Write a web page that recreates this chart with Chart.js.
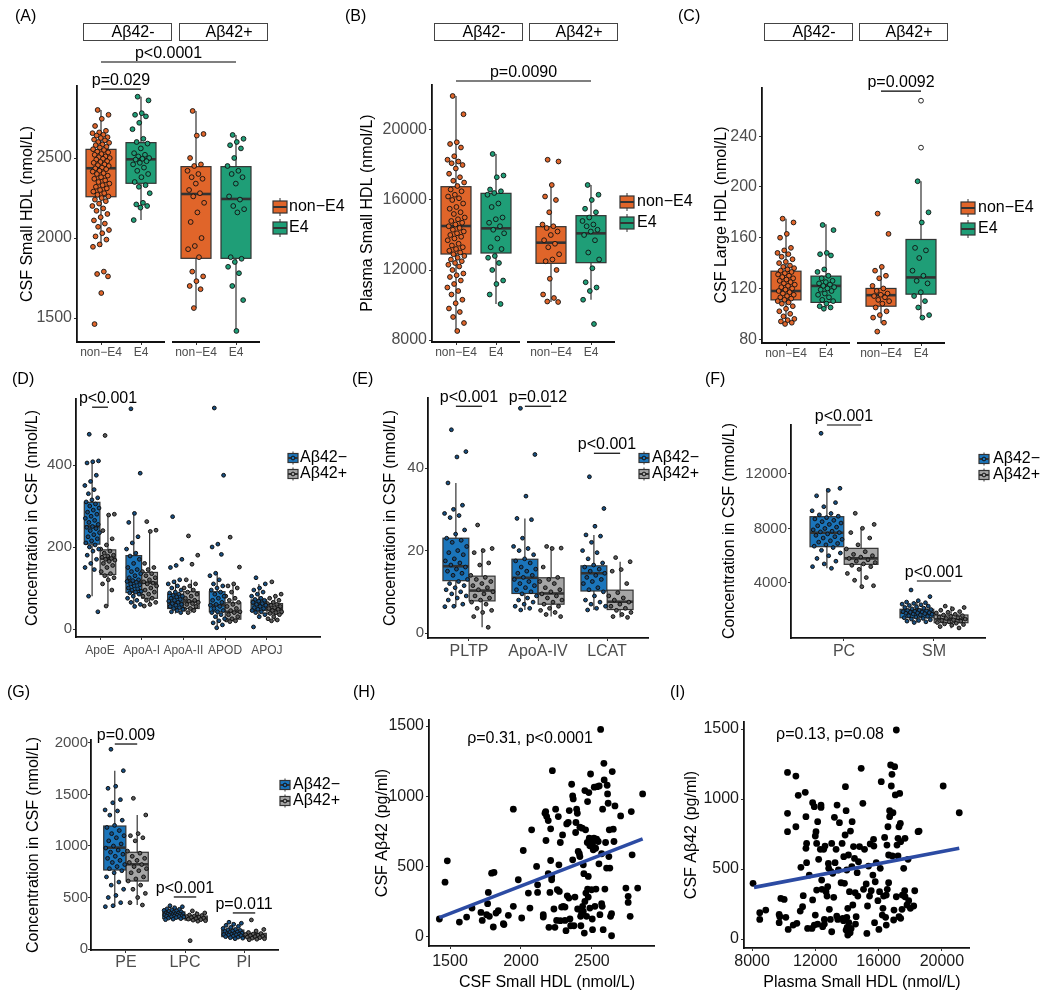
<!DOCTYPE html>
<html>
<head>
<meta charset="utf-8">
<title>HDL subspecies and amyloid</title>
<script src="https://cdn.jsdelivr.net/npm/chart.js"></script>
<style>
  html, body { margin: 0; padding: 0; background: #fff; }
  body { position: relative; width: 1050px; height: 1000px; overflow: hidden; }
  canvas { position: absolute; }
</style>
</head>
<body>
<script>
const FONT = '"Liberation Sans", Arial, Helvetica, sans-serif';
Chart.defaults.font.family = FONT;

// ---------------- data: panels A-C (APOE group within amyloid status) ----------------
const apoeLabels = ['non−E4', 'E4'];
const stripLabels = ['Aβ42-', 'Aβ42+'];
const apoeColors = ['#e0652a', '#1f9e77'];

// box stats: [lower whisker, q1, median, q3, upper whisker]; order: neg/nonE4, neg/E4, pos/nonE4, pos/E4
const csfSmallStats = [[1944, 2258, 2436, 2554, 2800], [2112, 2342, 2492, 2596, 2883], [1562, 1873, 2275, 2446, 2794], [1419, 1873, 2244, 2446, 2644]];
const csfSmallNegNonE4 = [2800, 2770, 2745, 2700, 2670, 2660, 2655, 2645, 2640, 2630, 2625, 2615, 2610, 2600, 2595, 2585, 2580, 2570, 2565, 2555, 2550, 2540, 2535, 2525, 2520, 2510, 2505, 2500, 2495, 2490, 2480, 2475, 2470, 2460, 2455, 2450, 2440, 2435, 2430, 2420, 2415, 2405, 2400, 2390, 2380, 2370, 2360, 2350, 2340, 2330, 2320, 2310, 2300, 2290, 2280, 2270, 2260, 2250, 2240, 2230, 2215, 2200, 2185, 2170, 2150, 2130, 2110, 2090, 2070, 2050, 2030, 2010, 1990, 1960, 1945, 1790, 1775, 1760, 1656, 1462];
const csfSmallNegE4 = [2883, 2860, 2780, 2770, 2760, 2720, 2680, 2620, 2600, 2590, 2560, 2530, 2520, 2510, 2500, 2495, 2490, 2480, 2470, 2460, 2440, 2420, 2400, 2380, 2350, 2330, 2320, 2280, 2220, 2210, 2200, 2190, 2112];
const csfSmallPosNonE4 = [2794, 2650, 2640, 2500, 2460, 2450, 2420, 2400, 2380, 2370, 2340, 2300, 2280, 2260, 2220, 2160, 2100, 2000, 1950, 1930, 1880, 1790, 1760, 1730, 1700, 1680, 1562];
const csfSmallPosE4 = [2644, 2620, 2600, 2580, 2560, 2500, 2450, 2420, 2400, 2380, 2340, 2260, 2240, 2200, 2180, 2160, 1880, 1870, 1850, 1820, 1780, 1700, 1612, 1419];
const csfSmallPvals = ['p<0.0001', 'p=0.029'];

const plasmaSmallStats = [[8514, 12914, 14514, 16760, 21943], [10057, 12971, 14381, 16381, 18629], [10171, 12381, 13562, 14476, 16857], [10300, 12419, 14095, 15105, 16857]];
const plasmaSmallNegNonE4 = [21943, 20900, 19300, 19200, 19000, 18500, 18300, 18200, 18100, 18000, 17800, 17500, 17300, 17100, 17000, 16800, 16600, 16500, 16300, 16200, 16100, 16000, 15800, 15600, 15500, 15300, 15200, 15000, 14900, 14800, 14700, 14600, 14500, 14400, 14300, 14200, 14100, 14000, 13900, 13800, 13700, 13500, 13400, 13300, 13200, 13100, 13000, 12900, 12800, 12700, 12600, 12500, 12400, 12300, 12200, 12000, 11800, 11700, 11600, 11400, 11200, 11000, 10800, 10600, 10300, 10100, 9800, 9600, 9314, 8971, 8514];
const plasmaSmallNegE4 = [18629, 17400, 17300, 16600, 16500, 16400, 16300, 15800, 15600, 15000, 14900, 14700, 14500, 14300, 14100, 13800, 13300, 13200, 12800, 12700, 12400, 12000, 11400, 11200, 10600, 10057];
const plasmaSmallPosNonE4 = [18300, 18200, 16857, 16200, 16000, 15300, 14600, 14500, 14400, 14200, 14000, 13700, 13500, 13300, 12900, 12600, 12500, 12000, 11500, 10600, 10400, 10200, 10171];
const plasmaSmallPosE4 = [16857, 16300, 16000, 15500, 15300, 15000, 14800, 14600, 14500, 14300, 14200, 14000, 13700, 13000, 12600, 12100, 11300, 11000, 10800, 10300, 8914];
const plasmaSmallPvals = ['p=0.0090'];

const csfLargeStats = [[92, 111, 118, 133.6, 175], [104.5, 109, 122, 129.7, 170.7], [92.6, 106, 114.7, 120, 137], [97.4, 115.5, 128.7, 158.6, 204.5]];
const csfLargeNegNonE4 = [175, 172, 163, 160, 152, 150, 148, 147, 145, 143, 141, 140, 138, 137, 136, 135, 134, 133, 132, 131, 130, 129, 128, 127, 126, 125, 124, 123, 122, 121, 120, 119, 118, 117, 116, 115, 114, 113, 112, 111, 110, 109, 108, 106, 104, 102, 100, 98, 96, 95, 94, 93, 92];
const csfLargeNegE4 = [170, 166, 148, 147, 146, 135, 133, 130, 128, 126, 125, 124, 123, 122, 121, 120, 119, 118, 116, 115, 113, 111, 110, 108, 106, 105, 104];
const csfLargePosNonE4 = [179, 163, 137, 134, 130, 128, 122, 120, 118, 116, 115, 114, 113, 111, 110, 108, 105, 102, 99, 97, 93, 86];
const csfLargePosE4 = [204.5, 180, 172, 152, 150, 144, 134, 130, 126, 124, 117, 114, 110, 105, 99, 97];
const csfLargePosE4Outliers = [268, 231];
const csfLargePvals = ['p=0.0092'];

// ---------------- data: panels D-G (Aβ42− vs Aβ42+) ----------------
const amyLabels = ['Aβ42−', 'Aβ42+'];
const amyColors = ['#1b75bb', '#a5a5a5'];

const apoProteins = ['ApoE', 'ApoA-I', 'ApoA-II', 'APOD', 'APOJ'];
const apoNegStats = [[80, 207, 250, 309, 412], [54, 89, 116, 179, 282], [38, 50, 64, 85, 120], [3, 42, 58, 91, 136], [30, 45, 61, 71, 110]];
const apoPosStats = [[56, 133, 172, 193, 282], [56, 75, 113, 138, 241], [40, 50, 67, 91, 120], [18, 24, 42, 64, 110], [20, 37, 48, 62, 85]];
const apoENeg = [475, 410, 408, 405, 375, 360, 350, 340, 330, 320, 315, 310, 305, 300, 295, 290, 285, 280, 275, 270, 265, 260, 255, 250, 248, 245, 240, 235, 230, 225, 220, 215, 210, 205, 200, 195, 190, 180, 170, 160, 150, 145, 80, 42];
const apoEPos = [472, 280, 278, 240, 220, 205, 195, 190, 185, 180, 178, 175, 172, 170, 168, 165, 160, 155, 150, 140, 135, 130, 125, 120, 110, 95, 56];
const apoA1Neg = [537, 380, 282, 260, 225, 210, 195, 185, 178, 170, 160, 150, 145, 140, 135, 130, 125, 120, 118, 116, 114, 110, 108, 105, 100, 98, 95, 92, 90, 88, 85, 80, 75, 70, 65, 60, 55];
const apoA1Pos = [262, 241, 238, 160, 150, 145, 140, 135, 130, 125, 120, 115, 112, 110, 105, 100, 95, 90, 85, 80, 75, 70, 65, 60, 56];
const apoA2Neg = [274, 170, 155, 150, 120, 115, 110, 105, 100, 95, 90, 88, 85, 82, 80, 78, 75, 72, 70, 68, 65, 62, 60, 58, 55, 52, 50, 48, 45, 42, 40];
const apoA2Pos = [227, 180, 158, 120, 110, 105, 100, 95, 90, 85, 80, 75, 70, 68, 65, 62, 60, 55, 50, 48, 45, 40];
const apoDNeg = [539, 375, 207, 200, 182, 136, 130, 120, 110, 105, 100, 95, 90, 85, 80, 75, 70, 65, 60, 58, 55, 50, 45, 42, 40, 35, 30, 25, 20, 15, 10, 3];
const apoDPos = [224, 151, 110, 105, 100, 90, 80, 75, 70, 65, 60, 55, 50, 45, 42, 40, 35, 30, 25, 22, 20, 18];
const apoJNeg = [125, 110, 100, 95, 90, 85, 80, 75, 72, 70, 68, 65, 62, 60, 58, 55, 52, 50, 48, 45, 42, 40, 35, 30, 5];
const apoJPos = [115, 85, 80, 75, 70, 65, 62, 60, 58, 55, 52, 50, 48, 45, 42, 40, 38, 35, 30, 25, 22, 20];
const apoPvals = ['p<0.001'];

const enzymes = ['PLTP', 'ApoA-IV', 'LCAT'];
const enzNegStats = [[6.4, 12.7, 16.2, 23, 36.4], [5.6, 9.6, 13.4, 17.9, 27.8], [5.6, 10.2, 14.5, 16.3, 23.8]];
const enzPosStats = [[1.4, 7.8, 10.3, 13.8, 20.5], [4, 7, 9.6, 13.4, 21], [3.8, 5.7, 7.6, 10.4, 17.3]];
const pltpNeg = [49.3, 44, 42.7, 36.4, 31, 30, 29, 28.5, 28, 25, 24, 23, 22.5, 22, 21, 20, 19.5, 19, 18, 17.5, 17, 16.5, 16, 15.5, 15, 14.5, 14, 13, 12.5, 12, 11.5, 11, 10.5, 10, 9.5, 9, 8.5, 8, 7, 6.5, 6.4];
const pltpPos = [26.2, 20.5, 20, 19.5, 17, 16.5, 14, 13.5, 13, 12.5, 12, 11.5, 11, 10.5, 10, 9.5, 9, 8.5, 8, 7.5, 7, 6, 5.5, 5, 4, 1.4];
const apoA4Neg = [54.5, 43.3, 33.2, 27.8, 27.5, 23, 21, 20.5, 20, 19, 18, 17.5, 17, 16, 15.5, 15, 14.5, 14, 13.5, 13, 12.5, 12, 11.5, 11, 10.5, 10, 9.5, 9, 8.5, 8, 7.5, 7, 6.5, 6, 5.6];
const apoA4Pos = [21, 20.6, 20.5, 16, 13.5, 13, 12.5, 12, 11, 10.5, 10, 9.5, 9, 8.5, 8, 7.5, 7, 6.5, 6, 5.5, 5, 4.5, 4];
const lcatNeg = [37.9, 30.2, 25.9, 23.8, 23.5, 22, 20, 19.5, 18, 17, 16.5, 16, 15.5, 15, 14.5, 14, 13.5, 13, 12.5, 12, 11, 10.5, 10, 9, 8, 7.5, 7, 6.5, 6, 5.6];
const lcatPos = [18.3, 17.3, 15.4, 15, 12, 9.8, 9, 8.5, 8, 7.5, 7, 6.5, 6, 5.5, 5, 4.5, 4, 3.8];
const enzPvals = ['p<0.001', 'p=0.012', 'p<0.001'];

const lipidsF = ['PC', 'SM'];
const lipFNegStats = [[5079, 6664, 7692, 8866, 10950], [1100, 1450, 1820, 2070, 2700]];
const lipFPosStats = [[3730, 5370, 5810, 6543, 8015], [675, 1086, 1336, 1651, 2312]];
const pcNeg = [14987, 10950, 10800, 10400, 9900, 9600, 9300, 9100, 9000, 8900, 8800, 8700, 8600, 8500, 8400, 8300, 8200, 8100, 8000, 7900, 7800, 7750, 7700, 7600, 7500, 7400, 7300, 7200, 7100, 7000, 6900, 6800, 6700, 6600, 6400, 6200, 6000, 5800, 5600, 5400, 5200, 5079];
const pcPos = [9115, 8300, 8015, 7700, 7300, 6800, 6500, 6300, 6100, 6000, 5900, 5800, 5700, 5600, 5500, 5400, 5300, 5200, 5000, 4700, 4400, 4200, 3800, 3730];
const smNeg = [3486, 3000, 2700, 2600, 2550, 2500, 2450, 2400, 2350, 2300, 2250, 2200, 2150, 2100, 2050, 2000, 1980, 1950, 1920, 1900, 1870, 1850, 1820, 1800, 1780, 1750, 1720, 1700, 1650, 1600, 1550, 1500, 1450, 1400, 1350, 1300, 1250, 1200, 1150, 1100];
const smPos = [2300, 2200, 2100, 2000, 1900, 1850, 1800, 1700, 1650, 1600, 1550, 1500, 1450, 1400, 1350, 1300, 1250, 1200, 1150, 1100, 1050, 1000, 950, 900, 800, 700];
const lipFPvals = ['p<0.001', 'p<0.001'];

const lipidsG = ['PE', 'LPC', 'PI'];
const lipGNegStats = [[411, 767, 984, 1194, 1731], [285, 295, 330, 360, 420], [100, 120, 150, 184, 260]];
const lipGPosStats = [[427, 660, 822, 939, 1301], [270, 280, 300, 320, 370], [90, 110, 130, 152, 190]];
const peNeg = [1939, 1731, 1580, 1560, 1450, 1420, 1350, 1340, 1300, 1250, 1200, 1180, 1150, 1120, 1100, 1080, 1050, 1020, 1000, 980, 960, 940, 920, 900, 880, 860, 840, 820, 800, 780, 760, 740, 700, 650, 620, 580, 520, 500, 450, 420, 411];
const pePos = [1463, 1301, 1120, 1100, 1080, 1050, 950, 930, 900, 880, 860, 840, 820, 800, 780, 760, 740, 700, 680, 660, 620, 580, 540, 500, 450, 427];
const lpcNeg = [420, 410, 400, 390, 385, 380, 375, 370, 365, 360, 355, 350, 348, 345, 342, 340, 338, 335, 332, 330, 328, 325, 322, 320, 318, 315, 312, 310, 305, 300, 295, 290, 285];
const lpcPos = [370, 350, 340, 330, 325, 320, 315, 310, 305, 300, 295, 290, 285, 280, 275, 270, 81];
const piNeg = [260, 250, 240, 230, 220, 210, 200, 190, 185, 180, 175, 170, 165, 160, 155, 150, 148, 145, 142, 140, 138, 135, 130, 125, 120, 115, 110, 105, 100];
const piPos = [282, 190, 175, 160, 150, 145, 140, 135, 130, 125, 120, 115, 110, 105, 100, 95, 90];
const lipGPvals = ['p=0.009', 'p<0.001', 'p=0.011'];

// ---------------- data: panels H-I (scatter) ----------------
const csfHdlX = [1425, 1465, 1481, 1566, 1617, 1655, 1718, 1727, 1758, 1765, 1770, 1777, 1793, 1805, 1810, 1824, 1840, 1876, 1880, 1911, 1946, 1946, 1981, 2005, 2016, 2052, 2063, 2075, 2110, 2117, 2117, 2157, 2157, 2169, 2174, 2176, 2181, 2192, 2192, 2197, 2204, 2209, 2209, 2216, 2216, 2221, 2232, 2239, 2244, 2251, 2256, 2263, 2267, 2270, 2277, 2277, 2286, 2293, 2298, 2310, 2310, 2317, 2322, 2326, 2333, 2338, 2340, 2345, 2350, 2357, 2364, 2364, 2368, 2373, 2380, 2385, 2387, 2392, 2397, 2399, 2403, 2411, 2415, 2415, 2420, 2422, 2427, 2431, 2434, 2439, 2439, 2443, 2446, 2450, 2450, 2455, 2457, 2462, 2467, 2469, 2469, 2474, 2474, 2478, 2481, 2485, 2485, 2490, 2493, 2497, 2502, 2504, 2504, 2509, 2514, 2516, 2521, 2526, 2528, 2533, 2537, 2544, 2549, 2551, 2556, 2561, 2568, 2568, 2572, 2575, 2579, 2584, 2586, 2591, 2596, 2603, 2607, 2610, 2614, 2619, 2622, 2626, 2631, 2638, 2638, 2643, 2650, 2655, 2662, 2702, 2739, 2755, 2755, 2769, 2777, 2783, 2822, 2857];
const csfAb42Y = [128, 390, 542, 106, 142, 206, 175, 118, 159, 237, 317, 147, 454, 71, 459, 170, 187, 95, 88, 154, 218, 909, 407, 135, 615, 312, 206, 762, 502, 317, 371, 159, 142, 880, 892, 686, 856, 828, 450, 69, 317, 544, 769, 407, 431, 1183, 199, 69, 909, 118, 336, 856, 513, 324, 116, 672, 213, 726, 218, 118, 213, 45, 804, 293, 814, 277, 899, 128, 80, 1086, 549, 1003, 982, 80, 284, 743, 814, 909, 880, 199, 608, 592, 781, 572, 147, 80, 170, 774, 218, 182, 513, 450, 28, 253, 1041, 762, 312, 147, 672, 341, 963, 431, 284, 1027, 703, 648, 206, 1159, 696, 336, 128, 52, 662, 620, 703, 1065, 218, 631, 341, 696, 1069, 679, 520, 1074, 159, 1476, 592, 237, 218, 909, 52, 1235, 1117, 341, 672, 490, 1079, 1017, 951, 572, 762, 490, 147, 9, 166, 1176, 767, 679, 932, 861, 348, 289, 246, 147, 892, 584, 348, 1017];
const csfFitX = [1425, 2857];
const csfFitY = [138, 698];
const csfRho = 'ρ=0.31, p<0.0001';

const plasmaHdlX = [8063, 8487, 8487, 8868, 9714, 9714, 9756, 10137, 9820, 10031, 10243, 10243, 10243, 10285, 10603, 10772, 10772, 10835, 10920, 11089, 11047, 11195, 11237, 11364, 11406, 11449, 11406, 11449, 11512, 11618, 11787, 11830, 11830, 11936, 11936, 11999, 11999, 12042, 12084, 12084, 12148, 12148, 12211, 12317, 12360, 12360, 12402, 12423, 12465, 12529, 12571, 12571, 12613, 12677, 12740, 12782, 12825, 12846, 12888, 12952, 12994, 13036, 13036, 13100, 13163, 13206, 13248, 13312, 13354, 13375, 13418, 13460, 13524, 13629, 13693, 13735, 13777, 13798, 13841, 13883, 13904, 13946, 13946, 13989, 13989, 14010, 14052, 14052, 14095, 14116, 14158, 14200, 14222, 14264, 14306, 14327, 14370, 14412, 14476, 14518, 14539, 14581, 14645, 14687, 14730, 14793, 14899, 15004, 15046, 15110, 15215, 15258, 15300, 15363, 15427, 15469, 15533, 15638, 15681, 15702, 15744, 15787, 15850, 15956, 16020, 16062, 16104, 16168, 16232, 16274, 16316, 16380, 16443, 16485, 16485, 16528, 16549, 16591, 16634, 16634, 16697, 16697, 16761, 16803, 16845, 16867, 16909, 16951, 16972, 17015, 17057, 17120, 17163, 17226, 17290, 17332, 17374, 17480, 17586, 17649, 17797, 17861, 17903, 17120, 17226, 17290, 17395, 17395, 17501, 17670, 17670, 18009, 18284, 18220, 18495, 18559, 20082, 21098];
const plasmaAb42Y = [398, 140, 188, 207, 176, 117, 160, 155, 290, 283, 1190, 898, 767, 69, 100, 1164, 802, 112, 1026, 512, 200, 231, 310, 1048, 874, 683, 648, 545, 76, 457, 76, 974, 279, 100, 945, 171, 736, 767, 683, 350, 838, 107, 569, 641, 957, 940, 421, 355, 88, 641, 107, 140, 664, 338, 307, 374, 540, 505, 212, 140, 481, 683, 52, 469, 298, 869, 545, 641, 164, 957, 140, 493, 831, 402, 683, 148, 131, 588, 398, 743, 1088, 64, 917, 493, 155, 83, 29, 219, 600, 117, 338, 45, 771, 76, 517, 838, 243, 660, 576, 331, 107, 160, 474, 307, 552, 660, 1219, 969, 355, 641, 393, 40, 236, 521, 307, 679, 345, 457, 712, 664, 117, 409, 545, 274, 69, 338, 505, 1124, 171, 219, 307, 726, 155, 100, 314, 671, 355, 802, 600, 402, 917, 874, 1243, 1093, 1176, 593, 902, 136, 207, 1231, 1029, 302, 671, 593, 802, 1040, 826, 212, 505, 345, 243, 569, 274, 1493, 719, 160, 148, 695, 314, 719, 302, 219, 345, 236, 767, 771, 1093, 902];
const plasmaFitX = [8127, 21098];
const plasmaFitY = [369, 648];
const plasmaRho = 'ρ=0.13, p=0.08';

// ---------------- helpers ----------------
const jit = i => (((i + 0.5) * 0.618034) % 1) - 0.5;

function txt(ctx, s, x, y, size, o) {
  o = o || {};
  ctx.save();
  ctx.font = size + 'px ' + FONT;
  ctx.fillStyle = o.color || '#000';
  ctx.textAlign = o.align || 'left';
  ctx.textBaseline = o.base || 'middle';
  ctx.translate(x, y);
  if (o.rot) ctx.rotate(o.rot);
  ctx.fillText(s, 0, 0);
  ctx.restore();
}

function makeCanvas(p) {
  const cv = document.createElement('canvas');
  cv.width = p.w;
  cv.height = p.h;
  cv.style.left = p.left + 'px';
  cv.style.top = p.top + 'px';
  cv.style.width = p.w + 'px';
  cv.style.height = p.h + 'px';
  document.body.appendChild(cv);
  return cv;
}

function scaleOptions(p) {
  const a = p.area;
  const col = p.tickColor || '#4d4d4d';
  const grid = { display: true, drawOnChartArea: false, drawTicks: true, tickLength: 3, color: '#333', lineWidth: 1 };
  return {
    x: {
      type: 'linear', bounds: 'data', min: p.xMin, max: p.xMax,
      afterBuildTicks: s => { s.ticks = p.xTicks.map(v => ({ value: v })); },
      afterFit: s => { s.height = p.top + p.h - a.b; s.paddingLeft = 0; s.paddingRight = 0; },
      border: { display: !p.facets, color: '#111', width: 1.8 },
      grid: grid,
      ticks: {
        autoSkip: false, maxRotation: 0, minRotation: 0, padding: p.xPad, color: col,
        font: { size: p.xFont }, callback: (v, i) => (p.xLabels ? p.xLabels[i] : String(v))
      }
    },
    y: {
      type: 'linear', bounds: 'data', min: p.yMin, max: p.yMax,
      afterBuildTicks: s => { s.ticks = p.yTicks.map(v => ({ value: v })); },
      afterFit: s => { s.width = a.l - p.left; s.paddingTop = 0; s.paddingBottom = 0; },
      border: { display: true, color: '#111', width: 1.8 },
      grid: grid,
      ticks: { autoSkip: false, padding: p.yPad, color: col, font: { size: p.yFont }, callback: v => String(v) }
    }
  };
}

function baseOptions(p) {
  const a = p.area;
  return {
    responsive: false, animation: false, events: [],
    layout: { autoPadding: false, padding: { left: 0, top: a.t - p.top, right: p.left + p.w - a.r, bottom: 0 } },
    plugins: { legend: { display: false }, tooltip: { enabled: false } },
    scales: scaleOptions(p)
  };
}

function drawBox(ctx, xs, ys, g) {
  const [lo, q1, md, q3, hi] = g.stats.map(v => ys.getPixelForValue(v));
  const cx = xs.getPixelForValue(g.x);
  const hw = xs.getPixelForValue(g.x + g.width / 2) - cx;
  ctx.strokeStyle = '#333';
  ctx.lineWidth = 1.2;
  ctx.beginPath();
  ctx.moveTo(cx, hi); ctx.lineTo(cx, q3);
  ctx.moveTo(cx, q1); ctx.lineTo(cx, lo);
  ctx.stroke();
  ctx.fillStyle = g.fill;
  ctx.fillRect(cx - hw, q3, 2 * hw, q1 - q3);
  ctx.strokeRect(cx - hw, q3, 2 * hw, q1 - q3);
  ctx.lineWidth = 2.6;
  ctx.beginPath();
  ctx.moveTo(cx - hw, md); ctx.lineTo(cx + hw, md);
  ctx.stroke();
}

function drawLegend(ctx, L, X, Y) {
  L.labels.forEach((lab, i) => {
    const cx = X(L.cx), cy = Y(L.y + i * L.dy);
    const hw = L.big ? 7 : 5, hh = L.big ? 6 : 4.5, wh = L.big ? 9 : 6.5;
    ctx.save();
    ctx.strokeStyle = '#333';
    ctx.lineWidth = 1;
    ctx.beginPath(); ctx.moveTo(cx, cy - wh); ctx.lineTo(cx, cy + wh); ctx.stroke();
    ctx.fillStyle = L.colors[i];
    ctx.fillRect(cx - hw, cy - hh, 2 * hw, 2 * hh);
    ctx.lineWidth = 1.2;
    ctx.strokeRect(cx - hw, cy - hh, 2 * hw, 2 * hh);
    ctx.lineWidth = 2;
    ctx.beginPath(); ctx.moveTo(cx - hw, cy); ctx.lineTo(cx + hw, cy); ctx.stroke();
    if (!L.big) {
      ctx.beginPath(); ctx.arc(cx, cy, 1.9, 0, 2 * Math.PI);
      ctx.fillStyle = L.colors[i]; ctx.fill();
      ctx.lineWidth = 1; ctx.strokeStyle = '#111'; ctx.stroke();
    }
    ctx.restore();
    txt(ctx, lab, X(L.tx), cy, 16);
  });
}

function decorate(chart, p) {
  const ctx = chart.ctx, xs = chart.scales.x, ys = chart.scales.y;
  const X = v => v - p.left, Y = v => v - p.top;
  ctx.save();
  if (p.facets) {
    ctx.strokeStyle = '#111'; ctx.lineWidth = 1.8;
    ctx.beginPath();
    p.facets.forEach(([f0, f1]) => {
      ctx.moveTo(xs.getPixelForValue(f0), chart.chartArea.bottom);
      ctx.lineTo(xs.getPixelForValue(f1), chart.chartArea.bottom);
    });
    ctx.stroke();
  }
  (p.strips || []).forEach(s => {
    ctx.fillStyle = '#fff'; ctx.strokeStyle = '#444'; ctx.lineWidth = 1;
    ctx.fillRect(X(s.l), Y(s.t), s.w, s.h);
    ctx.strokeRect(X(s.l) + 0.5, Y(s.t) + 0.5, s.w, s.h);
    txt(ctx, s.label, X(s.l + s.w / 2 + 6), Y(s.t + s.h / 2 + 1), 16, { align: 'center' });
  });
  (p.brackets || []).forEach(b => {
    const x0 = xs.getPixelForValue(b.a), x1 = xs.getPixelForValue(b.b), y = ys.getPixelForValue(b.y);
    ctx.strokeStyle = '#000'; ctx.lineWidth = 1.2;
    ctx.beginPath(); ctx.moveTo(x0, y); ctx.lineTo(x1, y); ctx.stroke();
    txt(ctx, b.label, (x0 + x1) / 2 + (b.dx || 0), y - 4, 16, { align: 'center', base: 'alphabetic' });
  });
  if (p.legend) drawLegend(ctx, p.legend, X, Y);
  if (p.tag) txt(ctx, p.tag[0], X(p.tag[1]), Y(p.tag[2]), 16);
  if (p.yTitle) txt(ctx, p.yTitle[0], X(p.yTitle[1]), Y(p.yTitle[2]), 16, { align: 'center', rot: -Math.PI / 2 });
  if (p.xTitle) txt(ctx, p.xTitle[0], X(p.xTitle[1]), Y(p.xTitle[2]), 16, { align: 'center' });
  if (p.note) txt(ctx, p.note[0], X(p.note[1]), Y(p.note[2]), 16, { align: 'center' });
  ctx.restore();
}

function boxPanel(p) {
  const cv = makeCanvas(p);
  const datasets = [];
  p.groups.forEach(g => {
    datasets.push({
      data: g.pts.map((v, i) => ({ x: g.x + g.spread * jit(i), y: v })),
      pointRadius: g.r, pointBackgroundColor: g.ptFill || g.fill, pointBorderColor: '#111', pointBorderWidth: g.bw
    });
    if (g.open) {
      datasets.push({
        data: g.open.map(v => ({ x: g.x, y: v })),
        pointRadius: g.r, pointBackgroundColor: '#fff', pointBorderColor: '#111', pointBorderWidth: g.bw
      });
    }
  });
  return new Chart(cv.getContext('2d'), {
    type: 'scatter',
    data: { datasets: datasets },
    options: baseOptions(p),
    plugins: [{
      id: 'boxes',
      beforeDatasetsDraw(chart) {
        const ctx = chart.ctx;
        ctx.save();
        p.groups.forEach(g => drawBox(ctx, chart.scales.x, chart.scales.y, g));
        ctx.restore();
      },
      afterDraw(chart) { decorate(chart, p); }
    }]
  });
}

function scatterPanel(p) {
  const cv = makeCanvas(p);
  return new Chart(cv.getContext('2d'), {
    type: 'scatter',
    data: {
      datasets: [
        { data: p.fitX.map((x, i) => ({ x: x, y: p.fitY[i] })), showLine: true, borderColor: '#2c4ba3', borderWidth: 3.6, pointRadius: 0 },
        { data: p.xs.map((x, i) => ({ x: x, y: p.ys[i] })), pointRadius: 3.4, pointBackgroundColor: '#000', pointBorderWidth: 0 }
      ]
    },
    options: baseOptions(p),
    plugins: [{ id: 'deco', afterDraw(chart) { decorate(chart, p); } }]
  });
}

// facet layout for A-C: two facets of two APOE groups
const facetPos = [1, 2, 3.375, 4.375];
function apoeGroups(stats, lists, open) {
  return stats.map((s, i) => ({
    x: facetPos[i], width: 0.75, stats: s, pts: lists[i], fill: apoeColors[i % 2],
    spread: 0.44, r: 2.4, bw: 0.9, open: open && open[i]
  }));
}
// points in D-G are drawn darker than the boxes, as in the figure
const amyPointFill = ['#174f82', '#5a5a5a'];
function amyGroups(negStats, posStats, negLists, posLists, spread) {
  const out = [];
  negStats.forEach((s, i) => {
    out.push({ x: i + 1 - 0.19, width: 0.375, stats: s, pts: negLists[i], fill: amyColors[0], ptFill: amyPointFill[0], spread: spread, r: 1.9, bw: 1 });
    out.push({ x: i + 1 + 0.19, width: 0.375, stats: posStats[i], pts: posLists[i], fill: amyColors[1], ptFill: amyPointFill[1], spread: spread, r: 1.9, bw: 1 });
  });
  return out;
}
function strips(l1, l2) {
  return [{ l: l1, t: 23, w: 88, h: 17, label: stripLabels[0] }, { l: l2, t: 23, w: 88, h: 17, label: stripLabels[1] }];
}
const facetLabels = apoeLabels.concat(apoeLabels);
const facetSpans = [[0.4, 2.6], [2.775, 4.975]];
const apoeLegend = (cx, y, tx) => ({ cx: cx, y: y, dy: 21, tx: tx, big: true, labels: apoeLabels, colors: apoeColors });
const amyLegend = (cx, y, tx) => ({ cx: cx, y: y, dy: 16, tx: tx, big: false, labels: amyLabels, colors: amyColors });

// ---------------- panels ----------------
boxPanel({
  left: 0, top: 0, w: 345, h: 370, area: { l: 77, t: 86, r: 260, b: 342 },
  xMin: 0.4, xMax: 4.975, yMin: 1350, yMax: 2950, xTicks: facetPos, xLabels: facetLabels, yTicks: [1500, 2000, 2500],
  xFont: 12, yFont: 16, xPad: 0, yPad: 2, facets: facetSpans,
  groups: apoeGroups(csfSmallStats, [csfSmallNegNonE4, csfSmallNegE4, csfSmallPosNonE4, csfSmallPosE4]),
  strips: strips(83, 179),
  brackets: [{ a: 1, b: 4.375, y: 3100, label: csfSmallPvals[0] }, { a: 1, b: 2, y: 2931, label: csfSmallPvals[1] }],
  legend: apoeLegend(280, 207, 289), tag: ['(A)', 15, 17], yTitle: ['CSF Small HDL (nmol/L)', 28, 214]
});

boxPanel({
  left: 340, top: 0, w: 365, h: 370, area: { l: 432, t: 85, r: 615, b: 342 },
  xMin: 0.4, xMax: 4.975, yMin: 7886, yMax: 22571, xTicks: facetPos, xLabels: facetLabels, yTicks: [8000, 12000, 16000, 20000],
  xFont: 12, yFont: 16, xPad: 0, yPad: 2, facets: facetSpans,
  groups: apoeGroups(plasmaSmallStats, [plasmaSmallNegNonE4, plasmaSmallNegE4, plasmaSmallPosNonE4, plasmaSmallPosE4]),
  strips: strips(434, 529),
  brackets: [{ a: 1, b: 4.375, y: 22800, label: plasmaSmallPvals[0] }],
  legend: apoeLegend(627, 202, 637), tag: ['(B)', 345, 17], yTitle: ['Plasma Small HDL (nmol/L)', 368, 213]
});

boxPanel({
  left: 670, top: 0, w: 380, h: 370, area: { l: 762, t: 88, r: 945, b: 343 },
  xMin: 0.4, xMax: 4.975, yMin: 77, yMax: 278, xTicks: facetPos, xLabels: facetLabels, yTicks: [80, 120, 160, 200, 240],
  xFont: 12, yFont: 16, xPad: 0, yPad: 2, facets: facetSpans,
  groups: apoeGroups(csfLargeStats, [csfLargeNegNonE4, csfLargeNegE4, csfLargePosNonE4, csfLargePosE4], [null, null, null, csfLargePosE4Outliers]),
  strips: strips(764, 859),
  brackets: [{ a: 3.375, b: 4.375, y: 275.5, label: csfLargePvals[0] }],
  legend: apoeLegend(968, 208, 978), tag: ['(C)', 678, 17], yTitle: ['CSF Large HDL (nmol/L)', 722, 215]
});

boxPanel({
  left: 0, top: 360, w: 350, h: 300, area: { l: 76, t: 399, r: 320, b: 637 },
  xMin: 0.424, xMax: 6.276, yMin: -19.5, yMax: 561, xTicks: [1, 2, 3, 4, 5], xLabels: apoProteins, yTicks: [0, 200, 400],
  xFont: 12, yFont: 15, xPad: 3, yPad: 1,
  groups: amyGroups(apoNegStats, apoPosStats, [apoENeg, apoA1Neg, apoA2Neg, apoDNeg, apoJNeg], [apoEPos, apoA1Pos, apoA2Pos, apoDPos, apoJPos], 0.36),
  brackets: [{ a: 0.81, b: 1.19, y: 541, label: apoPvals[0], dx: 8 }],
  legend: amyLegend(293, 458, 300), tag: ['(D)', 12, 380], yTitle: ['Concentration in CSF (nmol/L)', 33, 518]
});

boxPanel({
  left: 345, top: 360, w: 360, h: 300, area: { l: 428, t: 398, r: 648, b: 638 },
  xMin: 0.406, xMax: 3.594, yMin: -1.2, yMax: 57, xTicks: [1, 2, 3], xLabels: enzymes, yTicks: [0, 20, 40],
  xFont: 16, yFont: 15, xPad: 1, yPad: 1,
  groups: amyGroups(enzNegStats, enzPosStats, [pltpNeg, apoA4Neg, lcatNeg], [pltpPos, apoA4Pos, lcatPos], 0.34),
  brackets: [
    { a: 0.81, b: 1.19, y: 55, label: enzPvals[0] },
    { a: 1.81, b: 2.19, y: 55, label: enzPvals[1] },
    { a: 2.81, b: 3.19, y: 43.6, label: enzPvals[2] }
  ],
  legend: amyLegend(644, 458, 652), tag: ['(E)', 352, 380], yTitle: ['Concentration in CSF (nmol/L)', 391, 518]
});

boxPanel({
  left: 700, top: 360, w: 350, h: 300, area: { l: 791, t: 425, r: 985, b: 638 },
  xMin: 0.411, xMax: 2.567, yMin: -37, yMax: 15596, xTicks: [1, 2], xLabels: lipidsF, yTicks: [4000, 8000, 12000],
  xFont: 16, yFont: 15, xPad: 1, yPad: 1,
  groups: amyGroups(lipFNegStats, lipFPosStats, [pcNeg, smNeg], [pcPos, smPos], 0.34),
  brackets: [{ a: 0.81, b: 1.19, y: 15596, label: lipFPvals[0] }, { a: 1.81, b: 2.19, y: 4147, label: lipFPvals[1] }],
  legend: amyLegend(984, 459, 993), tag: ['(F)', 705, 380], yTitle: ['Concentration in CSF (nmol/L)', 730, 531]
});

boxPanel({
  left: 0, top: 660, w: 345, h: 340, area: { l: 91, t: 740, r: 278, b: 950 },
  xMin: 0.407, xMax: 3.576, yMin: -9.7, yMax: 2029, xTicks: [1, 2, 3], xLabels: lipidsG, yTicks: [0, 500, 1000, 1500, 2000],
  xFont: 16, yFont: 15, xPad: 0, yPad: 0,
  groups: amyGroups(lipGNegStats, lipGPosStats, [peNeg, lpcNeg, piNeg], [pePos, lpcPos, piPos], 0.34),
  brackets: [
    { a: 0.81, b: 1.19, y: 1990, label: lipGPvals[0] },
    { a: 1.81, b: 2.19, y: 505, label: lipGPvals[1] },
    { a: 2.81, b: 3.19, y: 350, label: lipGPvals[2] }
  ],
  legend: amyLegend(285, 785, 293), tag: ['(G)', 7, 693], yTitle: ['Concentration in CSF (nmol/L)', 34, 845]
});

scatterPanel({
  left: 345, top: 660, w: 320, h: 340, area: { l: 429, t: 720, r: 654, b: 946 },
  xMin: 1352, xMax: 2937, yMin: -64, yMax: 1543, xTicks: [1500, 2000, 2500], yTicks: [0, 500, 1000, 1500],
  xFont: 16, yFont: 16, xPad: 3, yPad: 2, tickColor: '#1a1a1a',
  xs: csfHdlX, ys: csfAb42Y, fitX: csfFitX, fitY: csfFitY,
  tag: ['(H)', 353, 693], yTitle: ['CSF Aβ42 (pg/ml)', 383, 833], xTitle: ['CSF Small HDL (nmol/L)', 547, 983],
  note: [csfRho, 530, 739]
});

scatterPanel({
  left: 660, top: 660, w: 390, h: 340, area: { l: 744, t: 722, r: 969, b: 948 },
  xMin: 7492, xMax: 21714, yMin: -64, yMax: 1550, xTicks: [8000, 12000, 16000, 20000], yTicks: [0, 500, 1000, 1500],
  xFont: 16, yFont: 16, xPad: 1, yPad: 2, tickColor: '#1a1a1a',
  xs: plasmaHdlX, ys: plasmaAb42Y, fitX: plasmaFitX, fitY: plasmaFitY,
  tag: ['(I)', 670, 693], yTitle: ['CSF Aβ42 (pg/ml)', 692, 835], xTitle: ['Plasma Small HDL (nmol/L)', 862, 983],
  note: [plasmaRho, 830, 735]
});
</script>
</body>
</html>
